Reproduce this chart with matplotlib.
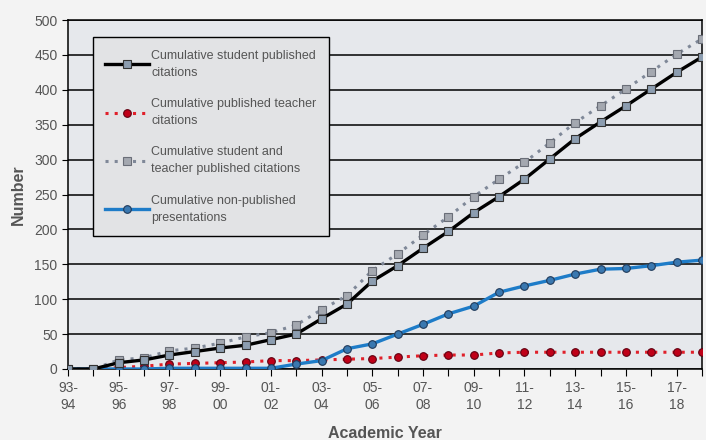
import matplotlib
matplotlib.use('Agg')
import matplotlib.pyplot as plt

# 学年（横轴类别）
years = ['93-94', '94-95', '95-96', '96-97', '97-98', '98-99', '99-00', '00-01',
         '01-02', '02-03', '03-04', '04-05', '05-06', '06-07', '07-08', '08-09',
         '09-10', '10-11', '11-12', '12-13', '13-14', '14-15', '15-16', '16-17',
         '17-18', '18-19']

# 各系列累计值
student_pub = [0, 0, 9, 13, 20, 25, 30, 34, 42, 50, 72, 93, 126, 148, 173, 197,
               224, 247, 272, 301, 330, 354, 377, 401, 425, 447]
teacher_pub = [0, 0, 2, 4, 7, 8, 9, 10, 12, 12, 13, 14, 15, 17, 19, 20,
               20, 23, 24, 24, 24, 24, 24, 24, 24, 24]
both_pub = [0, 0, 13, 16, 26, 30, 37, 46, 52, 63, 85, 105, 141, 165, 192, 218,
            247, 272, 296, 324, 353, 377, 401, 426, 451, 473]
non_pub = [0, 0, 0, 0, 1, 1, 1, 1, 1, 7, 12, 29, 36, 50, 64, 79,
           90, 110, 119, 127, 136, 143, 144, 148, 153, 156]

labels = ['Cumulative student published\ncitations',
          'Cumulative published teacher\ncitations',
          'Cumulative student and\nteacher published citations',
          'Cumulative non-published\npresentations']

plt.rcParams['font.family'] = ['Liberation Sans', 'DejaVu Sans']

fig = plt.figure(figsize=(7.06, 4.40), dpi=100, facecolor='#f3f3f3')
ax = fig.add_axes([0.0963, 0.1614, 0.898, 0.7931])
ax.set_facecolor('#e6e8ec')

x = list(range(len(years)))

ax.plot(x, student_pub, color='black', lw=2.4, marker='s', ms=5.5,
        mfc='#8c9db0', mec='#333333', mew=0.8, label=labels[0], zorder=4)
ax.plot(x, teacher_pub, color='#e0202a', lw=2.2, ls=(0, (1, 2)), marker='o', ms=5.5,
        mfc='#c00018', mec='#600010', mew=0.8, label=labels[1], zorder=3)
ax.plot(x, both_pub, color='#7f8898', lw=2.2, ls=(0, (1, 2)), marker='s', ms=6,
        mfc='#a4a8b0', mec='#6a6e78', mew=0.8, label=labels[2], zorder=3)
ax.plot(x, non_pub, color='#1e7cc8', lw=2.4, marker='o', ms=5.5,
        mfc='#3a78b0', mec='#203a5a', mew=0.8, label=labels[3], zorder=3)

ax.set_xlim(0, len(years) - 1)
ax.set_ylim(0, 500)
ax.set_yticks(range(0, 501, 50))
ax.yaxis.grid(True, color='black', lw=1.1)
ax.set_axisbelow(True)

ax.set_xticks(x)
ax.set_xticklabels([y.replace('-', '-\n') if i % 2 == 0 else '' for i, y in enumerate(years)])
ax.tick_params(axis='x', length=5, color='black', labelsize=10, labelcolor='#555555', pad=4)
ax.tick_params(axis='y', length=4, color='black', labelsize=10, labelcolor='#555555')

for s in ['left', 'bottom', 'right', 'top']:
    ax.spines[s].set_color('black')
    ax.spines[s].set_linewidth(1.1)

ax.set_xlabel('Academic Year', fontsize=11.5, fontweight='bold', color='#555555', labelpad=10)
ax.set_ylabel('Number', fontsize=11.5, fontweight='bold', color='#555555', labelpad=6)

leg = ax.legend(loc='upper left', bbox_to_anchor=(0.039, 0.951), borderaxespad=0,
                fontsize=9, frameon=True, fancybox=False, edgecolor='black',
                facecolor='#e2e3e5', framealpha=1, labelspacing=1.55,
                handlelength=3.5, handletextpad=0.2, borderpad=1.0)
leg.get_frame().set_linewidth(1.0)
for t in leg.get_texts():
    t.set_color('#555555')
    t.set_linespacing(1.55)

fig.savefig('out.png', dpi=100, facecolor=fig.get_facecolor())
